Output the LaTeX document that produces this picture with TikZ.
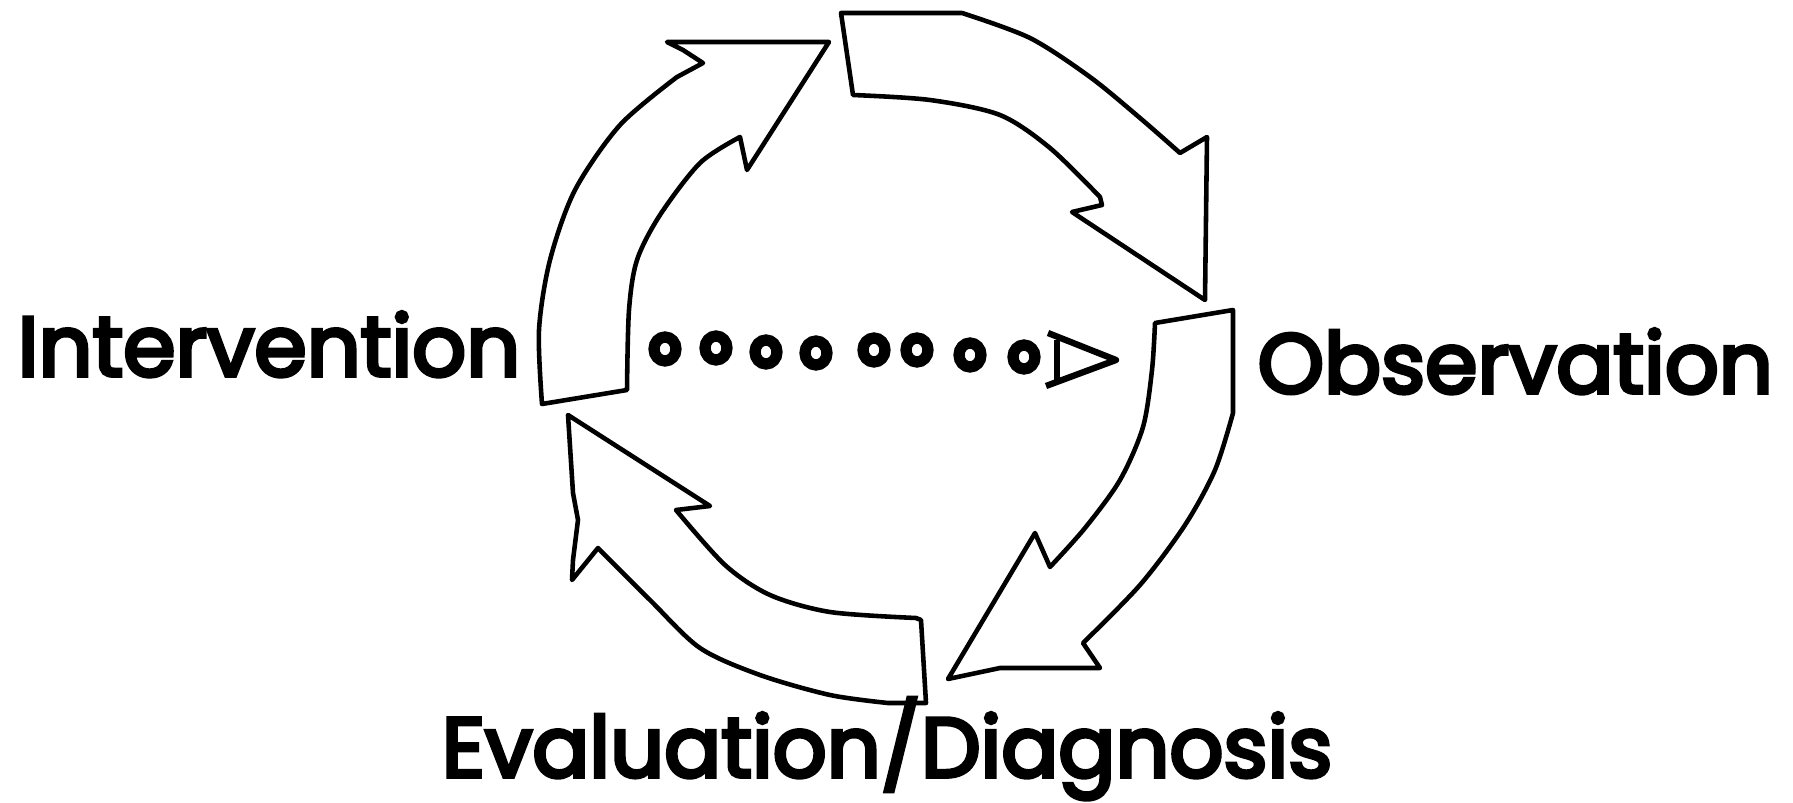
\documentclass[tikz,border=0pt]{standalone}
\usepackage{fontspec}
\setmainfont{Poppins}
\newfontfamily\phasefont{Poppins}[FakeBold=4.5]
\usepackage{tikz}

\tikzset{
	cycarrow/.style={draw=black, line width=1.3pt, line join=round},
	ring/.style={draw=black, line width=3.2pt},
	phase/.style={inner sep=0pt, anchor=base west, font=\phasefont\fontsize{24}{28}\selectfont},
}

\begin{document}
\begin{tikzpicture}[x=0.01cm, y=-0.01cm]
	\useasboundingbox (0,0) rectangle (1793,803);
	% Cycle arrows:
	\draw[cycarrow] (627,390) -- (542,404) -- plot[smooth] coordinates {(542,404) (539,330) (550,260) (575,190) (620,125) (677,77)} -- (703,63) -- (683,50) -- (667,42) -- (829,42) -- (747,170) -- (740,137) -- plot[smooth] coordinates {(740,137) (700,163) (660,215) (637,260) (629,310) (627,390)} -- cycle;
	\draw[cycarrow] (841,13) -- (962,13) -- plot[smooth] coordinates {(962,13) (1030,38) (1090,77) (1140,118) (1180,153)} -- (1207,137) -- (1205,300) -- (1072,212) -- (1102,205) -- plot[smooth] coordinates {(1100,197) (1050,148) (1000,115) (930,100) (853,95)} -- cycle;
	\draw[cycarrow] (1155,323) -- (1233,310) -- (1233,413) -- plot[smooth] coordinates {(1233,413) (1215,470) (1185,525) (1140,585) (1083,643)} -- (1100,668) -- (1000,668) -- (948,679) -- (1035,533) -- (1050,567) -- plot[smooth] coordinates {(1050,567) (1085,528) (1120,480) (1143,427) (1152,370) (1155,323)} -- cycle;
	\draw[cycarrow] (926,703) -- (921,620) -- plot[smooth] coordinates {(916,618) (830,612) (770,595) (725,565) (676,510)} -- (710,506) -- (568,415) -- (573,493) -- (578,520) -- (573,560) -- (572,580) -- (598,548) -- plot[smooth] coordinates {(598,548) (650,600) (700,648) (760,675) (830,695) (888,703)} -- cycle;
	% Dotted arrow:
	\foreach \cx/\cy in {665/349, 716/348, 766/352, 816/353, 874/350, 917/350, 970/355, 1024/357}
		\draw[ring] (\cx,\cy) ellipse [x radius=11, y radius=12];
	\draw[cycarrow, line width=1.8pt] (1048,333) -- (1116,360) -- (1046,386);
	\draw[cycarrow, line width=1.8pt] (1057,340) -- (1057,380);
	% Labels:
	\node[phase] (intervention) at (17,376) {Intervention};
	\node[phase] (observation) at (1257,393) {Observation};
	\node[phase] (evaluation) at (441,777) {Evaluation/Diagnosis};
\end{tikzpicture}
\end{document}
